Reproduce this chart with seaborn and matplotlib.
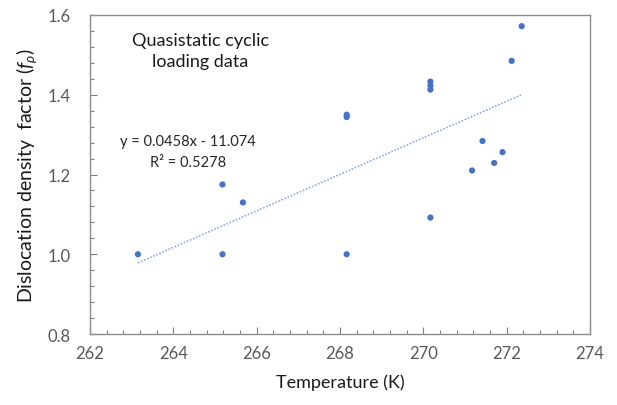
import numpy as np
import pandas as pd
import matplotlib
matplotlib.use("Agg")
import matplotlib.pyplot as plt
from matplotlib.ticker import MultipleLocator
import seaborn as sns

# ---- data ----
temperature = [263.15, 265.18, 265.18, 265.67, 268.16, 268.16, 268.16,
               270.17, 270.17, 270.17, 270.17, 271.17, 271.42, 271.70,
               271.90, 272.12, 272.36]
density_factor = [1.000, 1.000, 1.175, 1.130, 1.000, 1.344, 1.350,
                  1.433, 1.423, 1.413, 1.092, 1.210, 1.284, 1.229,
                  1.256, 1.485, 1.572]
trend_slope = 0.0458
trend_intercept = -11.074
trend_r2 = 0.5278
annotation_title = "Quasistatic cyclic\nloading data"
x_ticks = [262, 264, 266, 268, 270, 272, 274]
y_ticks = [0.8, 1.0, 1.2, 1.4, 1.6]

df = pd.DataFrame({"T": temperature, "f": density_factor})
tmin, tmax = min(temperature), max(temperature)
trend_df = pd.DataFrame({"T": [tmin, tmax]})
trend_df["f"] = trend_slope * trend_df["T"] + trend_intercept

sns.set_style("white")
plt.rcParams["font.family"] = ["Lato", "DejaVu Sans"]
plt.rcParams["mathtext.fontset"] = "custom"
plt.rcParams["mathtext.it"] = "Lato:italic"
plt.rcParams["mathtext.rm"] = "Lato"

fig = plt.figure(figsize=(6.17, 4.06), dpi=100)
ax = fig.add_axes([90/617, 1-335/406, 500/617, 319/406])

sns.lineplot(data=trend_df, x="T", y="f", ax=ax, color="#8FAADC",
             linestyle=(0, (1, 1)), linewidth=1.2)
sns.scatterplot(data=df, x="T", y="f", ax=ax, color="#4472C4",
                s=20, edgecolor="none", zorder=3)

ax.set_xlim(262, 274)
ax.set_ylim(0.8, 1.6)
ax.set_xticks(x_ticks)
ax.set_yticks(y_ticks)
ax.set_xticklabels([str(v) for v in x_ticks])
ax.set_yticklabels([f"{v:.1f}" for v in y_ticks])
ax.xaxis.set_minor_locator(MultipleLocator(0.4))
ax.yaxis.set_minor_locator(MultipleLocator(0.04))

ax.tick_params(axis="both", which="major", direction="in", length=5,
               width=0.8, color="#7f7f7f", labelsize=12,
               labelcolor="#595959")
ax.tick_params(axis="both", which="minor", direction="in", length=3,
               width=0.8, color="#7f7f7f")
ax.tick_params(axis="x", which="both", bottom=True, top=False, pad=8)
ax.tick_params(axis="y", which="both", left=True, right=False, pad=14)

for sp in ax.spines.values():
    sp.set_visible(True)
    sp.set_color("#8c8c8c")
    sp.set_linewidth(1.0)

ax.set_xlabel("Temperature (K)", fontsize=13, color="#1a1a1a", labelpad=9)
ax.set_ylabel(r"Dislocation density  factor ($f_{\rho}$)", fontsize=14,
              color="#1a1a1a", labelpad=6)

ax.text(264.65, 1.511, annotation_title, ha="center", va="center",
        fontsize=13, color="#1a1a1a", linespacing=1.35)
ax.text(264.35, 1.284, f"y = {trend_slope}x - {abs(trend_intercept)}",
        ha="center", va="center", fontsize=10.5, color="#262626")
ax.text(264.35, 1.232, f"R² = {trend_r2}",
        ha="center", va="center", fontsize=10.5, color="#262626")

fig.savefig("out.png", dpi=100)
